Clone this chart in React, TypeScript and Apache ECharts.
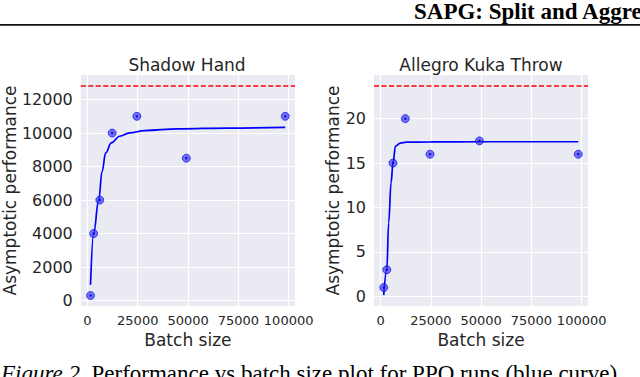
import React, { useEffect, useRef } from "react";
import * as echarts from "echarts";

// Batch sizes (x) shared by both panels
const batchSizes = [1536, 3072, 6144, 12288, 24576, 49152, 98304];
// Shadow Hand measured asymptotic performance
const shadowPerf = [300, 4000, 6000, 10000, 11000, 8500, 11000];
// Shadow Hand fitted curve
const shadowFitX = [1536, 3072, 5600, 7270, 9060, 11880, 16000, 20940, 28370, 44900, 70000, 98304];
const shadowFitY = [940, 4000, 6000, 7700, 8815, 9410, 9810, 10010, 10150, 10250, 10300, 10345];
const shadowRef = 12840;

// Allegro Kuka Throw measured asymptotic performance
const allegroPerf = [1, 3, 15, 20, 16, 17.5, 16];
// Allegro fitted curve
const allegroFitX = [1536, 3072, 4000, 5200, 6144, 7400, 9800, 12900, 25000, 50000, 98304];
const allegroFitY = [0.15, 3.0, 8.3, 12.8, 15.0, 16.9, 17.25, 17.35, 17.38, 17.4, 17.4];
const allegroRef = 23.73;

const xTicks = [0, 25000, 50000, 75000, 100000];
const shadowYTicks = [0, 2000, 4000, 6000, 8000, 10000, 12000];
const allegroYTicks = [0, 5, 10, 15, 20];

const titles = ["Shadow Hand", "Allegro Kuka Throw"];
const xName = "Batch size";
const yName = "Asymptotic performance";

const FONT = "DejaVu Sans";
const TXT = "#262626";
const BG = "#EAEAF2";

function zip(xs: number[], ys: number[]) {
  return xs.map((x, i) => [x, ys[i]]);
}

export default function App() {
  const ref = useRef<HTMLDivElement>(null);
  useEffect(() => {
    document.body.style.margin = "0";
    const chart = echarts.init(ref.current!, null, { renderer: "svg" });
    const grids = [
      { left: 79, top: 75, width: 216, height: 231 },
      { left: 374, top: 75, width: 214, height: 231 },
    ];
    const yRanges = [
      { min: -327, max: 13467, ticks: shadowYTicks, gap: 54 },
      { min: -1.08, max: 24.91, ticks: allegroYTicks, gap: 31 },
    ];
    const xAxis = grids.map((_, i) => ({
      type: "value",
      gridIndex: i,
      min: -3300,
      max: 103150,
      axisLine: { show: false },
      axisTick: { show: false, customValues: xTicks },
      axisLabel: {
        customValues: xTicks,
        color: TXT,
        fontSize: 13,
        fontFamily: FONT,
        margin: 8,
        hideOverlap: false,
        showMaxLabel: true,
        formatter: (v: number) => String(v),
      },
      splitLine: { show: true, lineStyle: { color: "#ffffff", width: 1.2 } },
      name: xName,
      nameLocation: "middle",
      nameGap: 24,
      nameTextStyle: { color: TXT, fontSize: 17, fontFamily: FONT },
    }));
    const yAxis = yRanges.map((r, i) => ({
      type: "value",
      gridIndex: i,
      min: r.min,
      max: r.max,
      axisLine: { show: false },
      axisTick: { show: false, customValues: r.ticks },
      axisLabel: {
        customValues: r.ticks,
        color: TXT,
        fontSize: 16,
        fontFamily: FONT,
        margin: 8,
        formatter: (v: number) => String(v),
      },
      splitLine: { show: true, lineStyle: { color: "#ffffff", width: 1.2 } },
      name: yName,
      nameLocation: "middle",
      nameGap: r.gap,
      nameTextStyle: { color: TXT, fontSize: 17, fontFamily: FONT },
    }));

    const fits = [zip(shadowFitX, shadowFitY), zip(allegroFitX, allegroFitY)];
    const pts = [zip(batchSizes, shadowPerf), zip(batchSizes, allegroPerf)];
    const refs = [shadowRef, allegroRef];

    const series: any[] = [];
    for (let i = 0; i < 2; i++) {
      series.push({
        type: "line",
        xAxisIndex: i,
        yAxisIndex: i,
        data: fits[i],
        smooth: 0.4,
        smoothMonotone: "x",
        showSymbol: false,
        lineStyle: { color: "#0000ff", width: 1.7 },
        z: 3,
        markLine: {
          silent: true,
          symbol: ["none", "none"],
          label: { show: false },
          lineStyle: { color: "#ff0000", type: [5, 2.5], width: 1.5 },
          data: [{ yAxis: refs[i] }],
        },
      });
      series.push({
        type: "scatter",
        xAxisIndex: i,
        yAxisIndex: i,
        data: pts[i],
        symbol: "circle",
        symbolSize: 8,
        itemStyle: {
          color: "rgba(40,40,255,0.8)",
          borderColor: "#0000dd",
          borderWidth: 0.8,
        },
        z: 4,
      });
      series.push({
        type: "scatter",
        xAxisIndex: i,
        yAxisIndex: i,
        data: pts[i],
        symbol: "circle",
        symbolSize: 2.5,
        itemStyle: { color: "#0000a0" },
        z: 5,
      });
    }

    chart.setOption({
      animation: false,
      backgroundColor: "#ffffff",
      title: [
        {
          text: titles[0],
          left: 187,
          top: 56,
          textAlign: "center",
          padding: 0,
          textStyle: { color: TXT, fontSize: 17, fontWeight: "normal", fontFamily: FONT },
        },
        {
          text: titles[1],
          left: 481,
          top: 56,
          textAlign: "center",
          padding: 0,
          textStyle: { color: TXT, fontSize: 17, fontWeight: "normal", fontFamily: FONT },
        },
      ],
      grid: grids.map((g) => ({ ...g, show: true, backgroundColor: BG, borderWidth: 0 })),
      xAxis,
      yAxis,
      series,
      graphic: [
        {
          type: "text",
          x: 414,
          y: 0,
          style: {
            text: "SAPG: Split and Aggre",
            font: 'bold 23px "Liberation Serif"',
            fill: "#000000",
          },
        },
        {
          type: "rect",
          shape: { x: 0, y: 24, width: 640, height: 1.8 },
          style: { fill: "#111111" },
        },
        {
          type: "text",
          x: 1,
          y: 362,
          style: {
            text: "{i|Figure 2.} Performance vs batch size plot for PPO runs (blue curve).",
            font: '23px "Liberation Serif"',
            fill: "#000000",
            rich: {
              i: { font: 'italic 23px "Liberation Serif"', fill: "#000000" },
            },
          },
        },
      ],
    });
    return () => chart.dispose();
  }, []);
  return <div ref={ref} style={{ width: 640, height: 377 }} />;
}
